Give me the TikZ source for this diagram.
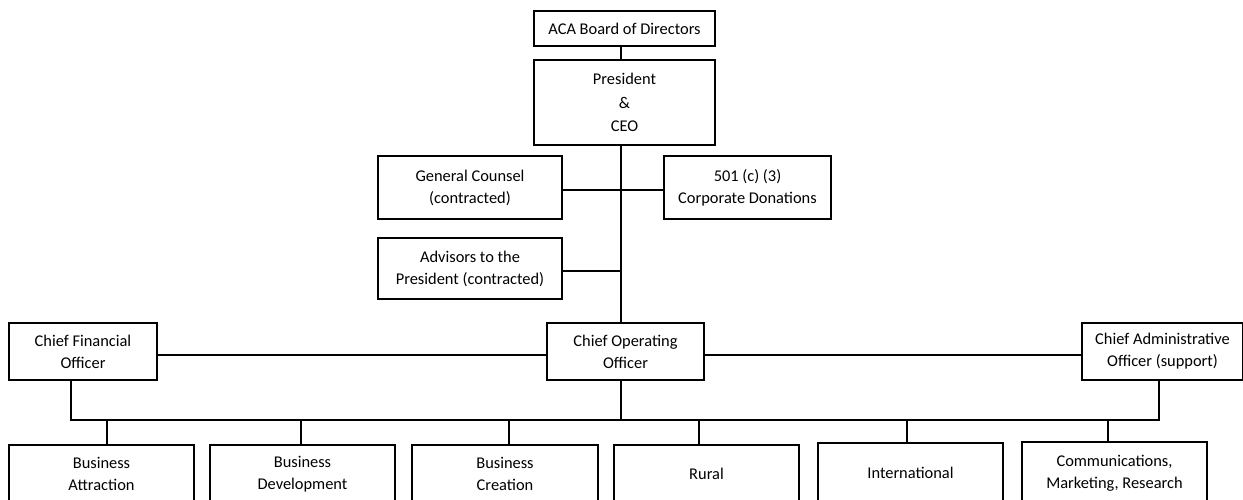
\documentclass[tikz,border=0pt]{standalone}
\usepackage{fontspec}
\setmainfont{Carlito}

\begin{document}
\begin{tikzpicture}[x=0.75pt,y=-0.75pt,line width=1.3pt,
    box/.style 2 args={draw,align=center,inner sep=0pt,minimum width=#1*0.75pt,minimum height=#2*0.75pt,font=\fontsize{12.3}{16.5}\selectfont}]
    \useasboundingbox (0,0) rectangle (1243,500);

    \node[box={181}{35}] (board) at (624.5,28.5) {ACA Board of Directors};
    \node[box={181}{85}] (ceo) at (624.5,102.5) {President\\[1pt]\&\\[1pt]CEO};
    \node[box={184}{63}] (counsel) at (470,187.5) {General Counsel\\(contracted)};
    \node[box={167}{63}] (donations) at (747.5,187.5) {501 (c) (3)\\Corporate Donations};
    \node[box={184}{61}] (advisors) at (470,268.5) {Advisors to the\\President (contracted)};

    \node[box={148}{57}] (cfo) at (83,351.5) {Chief Financial\\Officer};
    \node[box={157}{57}] (coo) at (625.5,351.5) {Chief Operating\\Officer};
    \node[box={161}{57}] (cao) at (1162.5,351.5) {Chief Administrative\\Officer (support)};

    \node[box={185}{58}] (attraction) at (101.5,474) {Business\\Attraction};
    \node[box={185}{58}] (development) at (302.5,474) {Business\\Development};
    \node[box={186}{58}] (creation) at (505,474) {Business\\Creation};
    \node[box={185}{58}] (rural) at (706.5,474) {Rural};
    \node[box={185}{60}] (international) at (910.5,473) {International};
    \node[box={185}{62}] (comm) at (1114.5,473) {Communications,\\Marketing, Research};

    \coordinate (spine) at (621,0);
    \coordinate (busL) at (71,420);
    \coordinate (busR) at (1159,420);

    \draw (board.south -| spine) -- (ceo.north -| spine);
    \draw (ceo.south -| spine) -- (coo.north -| spine);
    \draw ([yshift=-1.9pt]counsel.east) -- ([yshift=-1.9pt]donations.west);
    \draw ([yshift=-1.9pt]advisors.east) -- ([yshift=-1.9pt]advisors.east -| spine);

    \draw ([yshift=-2.6pt]cfo.east) -- ([yshift=-2.6pt]coo.west);
    \draw ([yshift=-2.6pt]coo.east) -- ([yshift=-2.6pt]cao.west);

    \draw (cfo.south -| busL) -- (busL) -- (busR) -- (cao.south -| busR);
    \draw (coo.south -| spine) -- (spine |- busL);

    \foreach \n/\x in {attraction/107,development/301,creation/509,rural/699,international/907,comm/1108}{
        \draw (\x,420) -- (\x,420 |- \n.north);
    }

\end{tikzpicture}
\end{document}
